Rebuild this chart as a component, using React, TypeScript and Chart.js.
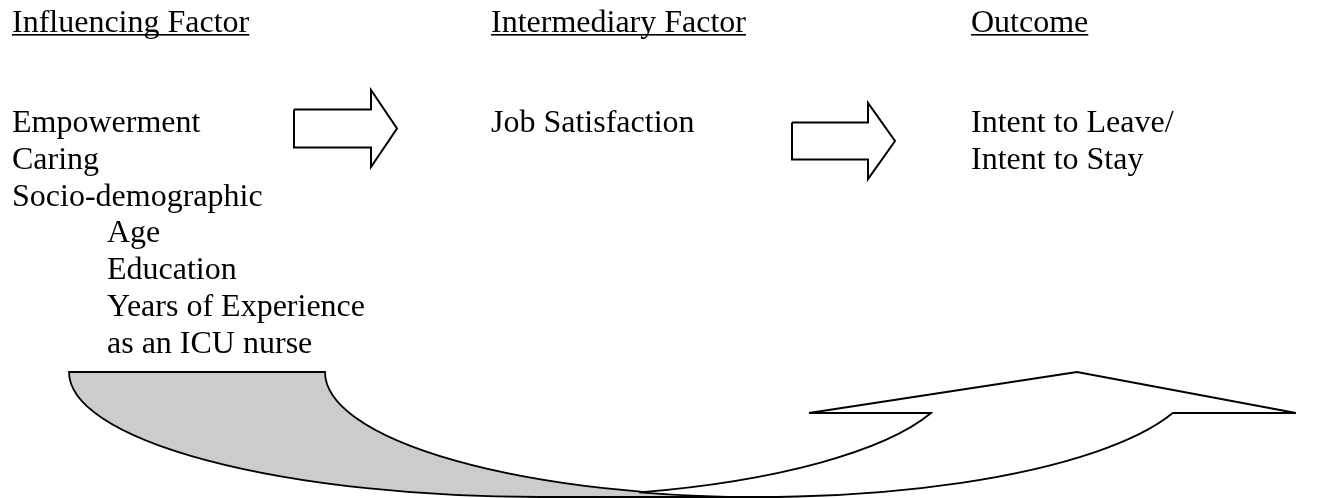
import React, { useEffect, useRef } from "react";
import { Chart, registerables } from "chart.js";

Chart.register(...registerables);

// ---- Text content ----
const HEADERS = ["Influencing Factor", "Intermediary Factor", "Outcome"];
const INFLUENCING = ["Empowerment", "Caring", "Socio-demographic"];
const SOCIO_ITEMS = ["Age", "Education", "Years of Experience", "as an ICU nurse"];
const INTERMEDIARY = ["Job Satisfaction"];
const OUTCOMES = ["Intent to Leave/", "Intent to Stay"];

// ---- Layout (diagram units = page pixels) ----
const W = 1329;
const H = 498;
const COL_X = [12, 491, 971];
const INDENT_X = 107;
const HEADER_BASELINE = 32;
const ROW0 = 132;
const ROW_STEP = 36.8;
const FONT = '32px "Liberation Serif", "Times New Roman", serif';

// Block arrows: left end of body, neck (head base), tip, centre line, half heights
const ARROW_LEFT = [294, 792];
const ARROW_NECK = [371, 868];
const ARROW_TIP = [397, 895];
const ARROW_CY = [128.5, 141];
const ARROW_BODY_HALF = [19, 18.5];
const ARROW_HEAD_HALF = [38.5, 38];

// Curved up-arrow
const CURVE_TOP = 372;
const BACK_OUTER = { cx: 540, rx: 471, ry: 125 }; // lower-left edge of shaded band
const BACK_INNER = { cx: 767, rx: 442, ry: 125 }; // upper edge of shaded band
const FRONT_OUTER = { cx: 758, rx: 439, ry: 125 }; // lower edge of white band
const FRONT_INNER = { cx: 522, rx: 433, ry: 125 }; // upper edge of white band
const BACK_LEFT_X = 69;
const HEAD_BASE_Y = 413;
const HEAD_LEFT_X = 809;
const HEAD_RIGHT_X = 1296;
const HEAD_TIP = { x: 1077, y: 372 };
const FRONT_INNER_END_X = 931;
const FRONT_OUTER_END_X = 1173;

function arrowPolygon(i: number) {
  const l = ARROW_LEFT[i], n = ARROW_NECK[i], t = ARROW_TIP[i], c = ARROW_CY[i];
  const b = ARROW_BODY_HALF[i], h = ARROW_HEAD_HALF[i];
  return [
    { x: l, y: c - b },
    { x: n, y: c - b },
    { x: n, y: c - h },
    { x: t, y: c },
    { x: n, y: c + h },
    { x: n, y: c + b },
    { x: l, y: c + b },
    { x: l, y: c - b },
  ];
}

function ellY(e: { cx: number; rx: number; ry: number }, x: number) {
  const u = (x - e.cx) / e.rx;
  return CURVE_TOP + e.ry * Math.sqrt(Math.max(0, 1 - u * u));
}

const diagramPlugin = {
  id: "diagram",
  afterDatasetsDraw(chart: any) {
    const ctx: CanvasRenderingContext2D = chart.ctx;
    const xs = chart.scales.x;
    const ys = chart.scales.y;
    const px = (v: number) => xs.getPixelForValue(v);
    const py = (v: number) => ys.getPixelForValue(v);
    const rxp = (cx: number, r: number) => px(cx + r) - px(cx);
    const ryp = (r: number) => py(CURVE_TOP + r) - py(CURVE_TOP);
    const ang = (e: any, x: number, y: number) =>
      Math.atan2((y - CURVE_TOP) / e.ry, (x - e.cx) / e.rx);

    ctx.save();
    ctx.lineWidth = 1.8;
    ctx.strokeStyle = "#000";
    ctx.lineJoin = "miter";

    // Back (shaded) band
    ctx.beginPath();
    ctx.moveTo(px(BACK_LEFT_X), py(CURVE_TOP));
    ctx.lineTo(px(BACK_INNER.cx - BACK_INNER.rx), py(CURVE_TOP));
    ctx.ellipse(px(BACK_INNER.cx), py(CURVE_TOP), rxp(BACK_INNER.cx, BACK_INNER.rx), ryp(BACK_INNER.ry), 0, Math.PI, Math.PI / 2, true);
    ctx.lineTo(px(BACK_OUTER.cx), py(CURVE_TOP + BACK_OUTER.ry));
    ctx.ellipse(px(BACK_OUTER.cx), py(CURVE_TOP), rxp(BACK_OUTER.cx, BACK_OUTER.rx), ryp(BACK_OUTER.ry), 0, Math.PI / 2, Math.PI, false);
    ctx.closePath();
    ctx.fillStyle = "#cccccc";
    ctx.fill();
    ctx.stroke();

    // intersection of front edges
    let lo = 560, hi = 760;
    for (let k = 0; k < 60; k++) {
      const mid = (lo + hi) / 2;
      const d = ellY(FRONT_INNER, mid) - ellY(FRONT_OUTER, mid);
      if (d > 0) lo = mid; else hi = mid;
    }
    const ix = (lo + hi) / 2;
    const iy = ellY(FRONT_OUTER, ix);

    // Front (white) band with arrow head
    ctx.beginPath();
    const a0 = ang(FRONT_OUTER, ix, iy);
    const a1 = ang(FRONT_OUTER, FRONT_OUTER_END_X, HEAD_BASE_Y);
    ctx.moveTo(px(ix), py(iy));
    ctx.ellipse(px(FRONT_OUTER.cx), py(CURVE_TOP), rxp(FRONT_OUTER.cx, FRONT_OUTER.rx), ryp(FRONT_OUTER.ry), 0, a0, a1, true);
    ctx.lineTo(px(HEAD_RIGHT_X), py(HEAD_BASE_Y));
    ctx.lineTo(px(HEAD_TIP.x), py(HEAD_TIP.y));
    ctx.lineTo(px(HEAD_LEFT_X), py(HEAD_BASE_Y));
    ctx.lineTo(px(FRONT_INNER_END_X), py(HEAD_BASE_Y));
    const b0 = ang(FRONT_INNER, FRONT_INNER_END_X, HEAD_BASE_Y);
    const b1 = ang(FRONT_INNER, ix, iy);
    ctx.ellipse(px(FRONT_INNER.cx), py(CURVE_TOP), rxp(FRONT_INNER.cx, FRONT_INNER.rx), ryp(FRONT_INNER.ry), 0, b0, b1, false);
    ctx.closePath();
    ctx.fillStyle = "#ffffff";
    ctx.fill();
    ctx.stroke();

    // Text
    ctx.fillStyle = "#000";
    ctx.font = FONT;
    ctx.textBaseline = "alphabetic";
    ctx.textAlign = "left";
    HEADERS.forEach((t, i) => {
      const x = px(COL_X[i]);
      const y = py(HEADER_BASELINE);
      ctx.fillText(t, x, y);
      const w = ctx.measureText(t).width;
      ctx.fillRect(x, y + 2, w, 1.6);
    });
    INFLUENCING.forEach((t, i) => ctx.fillText(t, px(COL_X[0]), py(ROW0 + i * ROW_STEP)));
    SOCIO_ITEMS.forEach((t, i) =>
      ctx.fillText(t, px(INDENT_X), py(ROW0 + (INFLUENCING.length + i) * ROW_STEP))
    );
    INTERMEDIARY.forEach((t, i) => ctx.fillText(t, px(COL_X[1]), py(ROW0 + i * ROW_STEP)));
    OUTCOMES.forEach((t, i) => ctx.fillText(t, px(COL_X[2]), py(ROW0 + i * ROW_STEP)));
    ctx.restore();
  },
};

export default function App() {
  const ref = useRef<HTMLCanvasElement | null>(null);
  useEffect(() => {
    if (!ref.current) return;
    const chart = new Chart(ref.current, {
      type: "scatter",
      data: {
        datasets: ARROW_LEFT.map((_, i) => ({
          label: "arrow" + i,
          data: arrowPolygon(i),
          showLine: true,
          borderColor: "#000",
          borderWidth: 2,
          backgroundColor: "#fff",
          pointRadius: 0,
          pointHoverRadius: 0,
          tension: 0,
          fill: false,
          borderJoinStyle: "miter",
        })),
      },
      options: {
        animation: false,
        responsive: false,
        events: [],
        layout: { padding: 0 },
        plugins: { legend: { display: false }, tooltip: { enabled: false } },
        scales: {
          x: { type: "linear", min: 0, max: W, display: false },
          y: { type: "linear", min: 0, max: H, reverse: true, display: false },
        },
      },
      plugins: [diagramPlugin],
    } as any);
    return () => chart.destroy();
  }, []);
  return (
    <div style={{ position: "fixed", left: 0, top: 0, width: W, height: H, background: "#fff" }}>
      <canvas ref={ref} width={W} height={H} style={{ display: "block" }} />
    </div>
  );
}
